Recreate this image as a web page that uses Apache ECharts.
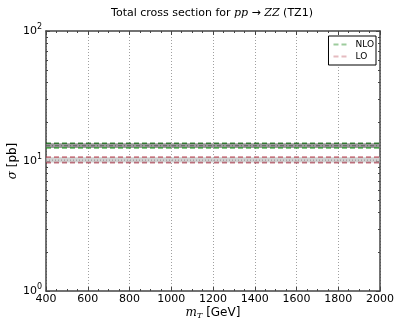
<!DOCTYPE html>
<html>
<head>
<meta charset="utf-8">
<script src="https://cdn.jsdelivr.net/npm/echarts@6/dist/echarts.min.js"></script>
<style>html,body{margin:0;padding:0;background:#fff}#c{width:398px;height:326px}</style>
</head>
<body>
<div id="c"></div>
<script>
// ---- data ----
const mT = [400, 600, 800, 1000, 1200, 1400, 1600, 1800, 2000];
const nloUp = [13.7, 13.7, 13.7, 13.7, 13.7, 13.7, 13.7, 13.7, 13.7];
const nloCentral = [13.1, 13.1, 13.1, 13.1, 13.1, 13.1, 13.1, 13.1, 13.1];
const nloDown = [12.6, 12.6, 12.6, 12.6, 12.6, 12.6, 12.6, 12.6, 12.6];
const loUp = [10.7, 10.7, 10.7, 10.7, 10.7, 10.7, 10.7, 10.7, 10.7];
const loCentral = [10.15, 10.15, 10.15, 10.15, 10.15, 10.15, 10.15, 10.15, 10.15];
const loDown = [9.72, 9.72, 9.72, 9.72, 9.72, 9.72, 9.72, 9.72, 9.72];
const xTicks = [400, 600, 800, 1000, 1200, 1400, 1600, 1800, 2000];
const yTickExps = [0, 1, 2];
const yMajor = [1, 10, 100];
const yMinor = [2, 3, 4, 5, 6, 7, 8, 9, 20, 30, 40, 50, 60, 70, 80, 90];

const pairs = (ys) => mT.map((x, i) => [x, ys[i]]);

function bandSeries(lo, hi, color, z) {
  return {
    type: 'custom',
    silent: true,
    z: z,
    renderItem: function (params, api) {
      if (params.dataIndex !== 0) return;
      const pts = [];
      for (let i = 0; i < mT.length; i++) pts.push(api.coord([mT[i], hi[i]]));
      for (let i = mT.length - 1; i >= 0; i--) pts.push(api.coord([mT[i], lo[i]]));
      return { type: 'polygon', shape: { points: pts }, style: { fill: color } };
    },
    data: [0],
    encode: {}
  };
}
function lineS(name, ys, color, type, width, opacity, z) {
  return {
    name: name, type: 'line', data: pairs(ys), showSymbol: false, symbol: 'none',
    silent: true, z: z,
    lineStyle: { color: color, type: type, width: width, opacity: opacity },
    itemStyle: { color: color, opacity: opacity }
  };
}

const axisColor = '#444';
const dashIcon = 'path://M0,0H5V2H0Z M8,0H13V2H8Z';
const chart = echarts.init(document.getElementById('c'));
chart.setOption({
  animation: false,
  backgroundColor: '#fff',
  title: {
    text: 'Total cross section for {i|pp} → {i|ZZ} (TZ1)',
    left: 207, top: 3, textAlign: 'center',
    textStyle: {
      fontFamily: 'DejaVu Sans', fontSize: 11, fontWeight: 'normal', color: '#000',
      rich: { i: { fontFamily: 'DejaVu Serif', fontStyle: 'italic', fontSize: 11 } }
    }
  },
  legend: {
    right: 22, top: 36, orient: 'vertical',
    itemWidth: 13, itemHeight: 2, itemGap: 3,
    padding: [4, 2, 4, 5],
    borderColor: '#000', borderWidth: 1, borderRadius: 0, backgroundColor: '#fff',
    textStyle: { fontFamily: 'DejaVu Sans', fontSize: 9, color: '#000', padding: [0, 0, 0, 4] },
    data: [
      { name: 'NLO', icon: dashIcon, itemStyle: { color: 'rgba(31,138,31,0.55)' } },
      { name: 'LO', icon: dashIcon, itemStyle: { color: 'rgba(176,48,64,0.55)' } }
    ]
  },
  grid: { left: 46, right: 18, top: 31, bottom: 35, outerBoundsMode: 'none', containLabel: false },
  xAxis: [{
    type: 'value', position: 'bottom', min: 400, max: 2000, interval: 200,
    name: '{i|m}{s|T} [GeV]', nameLocation: 'middle', nameGap: 15, nameMoveOverlap: false,
    nameTextStyle: { fontFamily: 'DejaVu Sans', fontSize: 12, color: '#000',
      rich: { i: { fontFamily: 'DejaVu Serif', fontStyle: 'italic', fontSize: 12 },
              s: { fontFamily: 'DejaVu Serif', fontStyle: 'italic', fontSize: 8, verticalAlign: 'bottom', padding: [6, 0, 0, 0] } } },
    axisLine: { show: true, lineStyle: { color: axisColor, width: 1.5 } },
    axisTick: { show: true, inside: true, length: 4, lineStyle: { color: axisColor } },
    minorTick: { show: true, splitNumber: 4, length: 2, lineStyle: { color: axisColor } },
    axisLabel: { fontFamily: 'DejaVu Sans', fontSize: 11, color: '#000', margin: 3,
      formatter: function (v) { const i = xTicks.indexOf(v); return String(i >= 0 ? xTicks[i] : v); } },
    splitLine: { show: true, lineStyle: { color: '#888', type: [1, 2], width: 0.8 } }
  }, {
    type: 'value', position: 'top', min: 400, max: 2000, interval: 200,
    axisLine: { show: true, lineStyle: { color: axisColor, width: 1.5 } },
    axisTick: { show: true, inside: true, length: 4, lineStyle: { color: axisColor } },
    minorTick: { show: true, splitNumber: 4, length: 2, lineStyle: { color: axisColor } },
    axisLabel: { show: false }, splitLine: { show: false }
  }],
  yAxis: [{
    type: 'log', logBase: 10, position: 'left', min: 1, max: 100,
    name: '{i|σ} [pb]', nameLocation: 'middle', nameGap: 27, nameRotate: 90, nameMoveOverlap: false,
    nameTextStyle: { fontFamily: 'DejaVu Sans', fontSize: 12, color: '#000',
      rich: { i: { fontFamily: 'DejaVu Serif', fontStyle: 'italic', fontSize: 12 } } },
    axisLine: { show: true, lineStyle: { color: axisColor, width: 1.5 } },
    axisTick: { show: true, inside: true, length: 4, customValues: yMajor, lineStyle: { color: axisColor } },
    axisLabel: {
      customValues: yMajor, margin: 4,
      formatter: function (v) { const e = yTickExps[yMajor.indexOf(v)]; return '10{s|' + (e === undefined ? Math.round(Math.log10(v)) : e) + '}'; },
      fontFamily: 'DejaVu Sans', fontSize: 11, color: '#000',
      rich: { s: { fontSize: 8, verticalAlign: 'top', padding: [0, 0, 8, 0], fontFamily: 'DejaVu Sans' } }
    },
    splitLine: { show: false }
  }, {
    type: 'log', logBase: 10, position: 'left', min: 1, max: 100,
    axisLine: { show: false },
    axisTick: { show: true, inside: true, length: 2, customValues: yMinor, lineStyle: { color: axisColor } },
    axisLabel: { show: false }, splitLine: { show: false }
  }, {
    type: 'log', logBase: 10, position: 'right', min: 1, max: 100,
    axisLine: { show: true, lineStyle: { color: axisColor, width: 1.5 } },
    axisTick: { show: true, inside: true, length: 4, customValues: yMajor, lineStyle: { color: axisColor } },
    axisLabel: { show: false }, splitLine: { show: false }
  }, {
    type: 'log', logBase: 10, position: 'right', min: 1, max: 100,
    axisLine: { show: false },
    axisTick: { show: true, inside: true, length: 2, customValues: yMinor, lineStyle: { color: axisColor } },
    axisLabel: { show: false }, splitLine: { show: false }
  }],
  series: [
    bandSeries(nloDown, nloUp, 'rgba(120,120,120,0.75)', 2),
    bandSeries(loDown, loUp, 'rgba(190,190,190,0.7)', 2),
    lineS('NLO', nloUp, '#116611', [5, 3], 1.7, 0.8, 4),
    lineS('NLO', nloDown, '#2a9a2a', [5, 3], 1.7, 0.75, 4),
    lineS('NLOc', nloCentral, '#555', [4, 2, 1, 2], 1, 0.8, 3),
    lineS('LO', loUp, '#b03040', [5, 3], 1.7, 0.6, 4),
    lineS('LO', loDown, '#9a1a30', [5, 3], 1.7, 0.6, 4),
    lineS('LOc', loCentral, '#888', [1, 2], 1, 0.9, 3)
  ]
});
</script>
</body>
</html>
